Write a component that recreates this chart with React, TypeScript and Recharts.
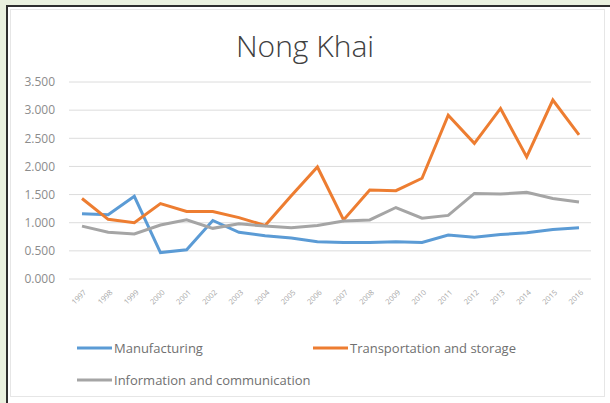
import React from "react";
import { LineChart, Line, XAxis, YAxis, CartesianGrid, Legend } from "recharts";

const years = ["1997","1998","1999","2000","2001","2002","2003","2004","2005","2006","2007","2008","2009","2010","2011","2012","2013","2014","2015","2016"];
const manufacturing = [1.16,1.14,1.47,0.47,0.52,1.04,0.83,0.77,0.73,0.66,0.65,0.65,0.66,0.65,0.78,0.74,0.79,0.82,0.88,0.91];
const transportation = [1.43,1.06,1.00,1.34,1.20,1.20,1.09,0.95,1.48,1.99,1.05,1.58,1.57,1.79,2.91,2.41,3.03,2.17,3.18,2.56];
const information = [0.94,0.83,0.80,0.96,1.05,0.90,0.98,0.94,0.91,0.95,1.03,1.05,1.27,1.08,1.13,1.52,1.51,1.54,1.43,1.37];
const yTicks = [0, 0.5, 1, 1.5, 2, 2.5, 3, 3.5];

const seriesNames = ["Manufacturing", "Transportation and storage", "Information and communication"];
const seriesKeys = ["m", "t", "i"];
const seriesColors = ["#5B9BD5", "#ED7D31", "#A5A5A5"];

const data = years.map((y, k) => ({ year: y, m: manufacturing[k], t: transportation[k], i: information[k] }));

const FONT = "'Open Sans', 'DejaVu Sans', sans-serif";

const XTick = (props: any) => {
  const { x, y, payload } = props;
  return (
    <g transform={`translate(${x + 3},${y + 12})`}>
      <text x={0} y={0} dy="0.35em" textAnchor="end" transform="rotate(-45)" fontSize={7.5} fill="#a6a6a6" fontFamily={FONT}>
        {payload.value}
      </text>
    </g>
  );
};

const legendPos = [
  { left: 77, top: 339 },
  { left: 313, top: 339 },
  { left: 77, top: 371 },
];

const renderLegend = () => (
  <div style={{ position: "relative", width: 610, height: 1 }}>
    {seriesNames.map((n, k) => (
      <div key={n} style={{ position: "absolute", left: legendPos[k].left, top: legendPos[k].top, display: "flex", alignItems: "center", whiteSpace: "nowrap" }}>
        <svg width={36} height={18}>
          <line x1={0} y1={9} x2={35} y2={9} stroke={seriesColors[k]} strokeWidth={3} />
        </svg>
        <span style={{ fontFamily: FONT, fontSize: 13, color: "#707070", marginLeft: 1 }}>{n}</span>
      </div>
    ))}
  </div>
);

export default function App() {
  return (
    <div style={{ position: "absolute", left: 0, top: 0, width: 610, height: 403, background: "#eaf1df", overflow: "hidden" }}>
      <div style={{ position: "absolute", left: 6, top: 5, width: 604, height: 398, borderLeft: "2px solid #2e2e2e", borderTop: "2px solid #2e2e2e", background: "#ffffff", boxSizing: "border-box" }} />
      <div style={{ position: "absolute", left: 10, top: 9, width: 595, height: 388, border: "1px solid #e6e6e6", boxSizing: "border-box" }} />
      <div style={{ position: "absolute", left: 0, top: 26, width: 610, textAlign: "center", fontFamily: FONT, fontWeight: 300, fontSize: 30, color: "#404040", lineHeight: "40px" }}>
        Nong Khai
      </div>
      <div style={{ position: "absolute", left: 0, top: 0 }}>
        <LineChart width={610} height={403} data={data} margin={{ top: 82, right: 19, bottom: 84, left: 0 }}>
          <CartesianGrid vertical={false} stroke="#dcdcdc" strokeWidth={1} />
          <XAxis dataKey="year" axisLine={false} tickLine={false} tickSize={0} tickMargin={0} height={40} interval={0}
            padding={{ left: 13, right: 12 }} tick={<XTick />} />
          <YAxis domain={[0, 3.5]} ticks={yTicks} width={69} axisLine={false} tickLine={false} tickSize={0} tickMargin={14}
            tickFormatter={(v: number) => v.toFixed(3)} tick={{ fontSize: 12, fill: "#8c8c8c", fontFamily: FONT }} />
          <Legend layout="horizontal" verticalAlign="middle" align="center" content={renderLegend}
            wrapperStyle={{ left: 0, top: 0, width: 610 }} />
          {seriesKeys.map((k, idx) => (
            <Line key={k} type="linear" dataKey={k} name={seriesNames[idx]} stroke={seriesColors[idx]} strokeWidth={3}
              dot={false} activeDot={false} isAnimationActive={false} />
          ))}
        </LineChart>
      </div>
    </div>
  );
}
